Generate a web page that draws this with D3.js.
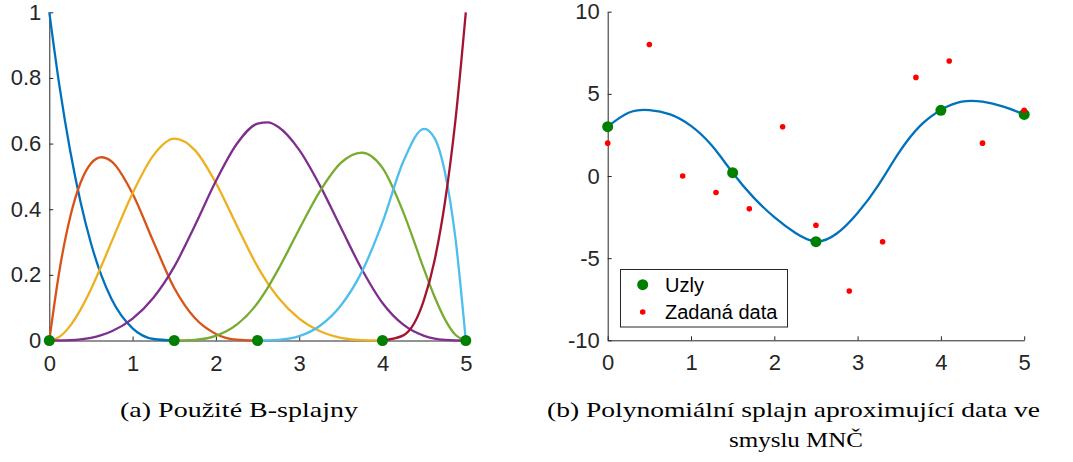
<!DOCTYPE html>
<html>
<head>
<meta charset="utf-8">
<script src="https://cdn.jsdelivr.net/npm/d3@7"></script>
<style>
  html, body { margin: 0; padding: 0; background: #fff; }
  svg { display: block; }
</style>
</head>
<body>
<svg id="chart" width="1073" height="462"></svg>
<script>
// ---------- Left panel: B-spline basis functions (sampled values) ----------
const bx = [0, 0.125, 0.25, 0.375, 0.5, 0.625, 0.75, 1, 1.25, 1.5, 1.75, 2, 2.25, 2.5, 2.625, 2.75, 3, 3.25, 3.5, 3.75, 4, 4.25, 4.5, 4.625, 4.75, 4.875, 5];
const b1 = [1, 0.7703, 0.5787, 0.4219, 0.2963, 0.1985, 0.125, 0.0370, 0.0046, 0, 0, 0, 0, 0, 0, 0, 0, 0, 0, 0, 0, 0, 0, 0, 0, 0, 0];
const b2 = [0, 0.2178, 0.3757, 0.4806, 0.5393, 0.5584, 0.545, 0.4474, 0.3009, 0.16, 0.0675, 0.02, 0.0025, 0, 0, 0, 0, 0, 0, 0, 0, 0, 0, 0, 0, 0, 0];
const b3 = [0, 0.0118, 0.0445, 0.0940, 0.1561, 0.2268, 0.3019, 0.4489, 0.5642, 0.615, 0.5794, 0.48, 0.3506, 0.225, 0.1733, 0.1302, 0.0667, 0.0281, 0.0083, 0.0010, 0, 0, 0, 0, 0, 0, 0];
const b4 = [0, 0.0001, 0.0010, 0.0035, 0.0083, 0.0163, 0.0281, 0.0667, 0.1302, 0.225, 0.3513, 0.4857, 0.5987, 0.6607, 0.6645, 0.6507, 0.5810, 0.4719, 0.3440, 0.2180, 0.1143, 0.0482, 0.0143, 0.0060, 0.0018, 0.0002, 0];
const b5 = [0, 0, 0, 0, 0, 0, 0, 0, 0, 0, 0.0018, 0.0143, 0.0482, 0.1143, 0.1620, 0.2174, 0.3390, 0.455, 0.5410, 0.5726, 0.5257, 0.3905, 0.2157, 0.1332, 0.0645, 0.0174, 0];
const b6 = [0, 0, 0, 0, 0, 0, 0, 0, 0, 0, 0, 0, 0, 0, 0.0002, 0.0017, 0.0133, 0.045, 0.1067, 0.2083, 0.36, 0.5456, 0.645, 0.6166, 0.5119, 0.3124, 0];
const b7 = [0, 0, 0, 0, 0, 0, 0, 0, 0, 0, 0, 0, 0, 0, 0, 0, 0, 0, 0, 0, 0, 0.0156, 0.125, 0.2441, 0.4219, 0.6699, 1];
// support interval of each basis function
const bStart = [0, 0, 0, 0, 1.5, 2.5, 4];
const bEnd = [1.5, 2.5, 4, 5, 5, 5, 5];
const basisColors = ["#0072BD", "#D95319", "#EDB120", "#7E2F8E", "#77AC30", "#4DBEEE", "#A2142F"];
const knotX = [0, 1.5, 2.5, 4, 5];
const knotBaseY = [0, 0, 0, 0, 0];
const leftXTicks = [0, 1, 2, 3, 4, 5];
const leftXLabels = ["0", "1", "2", "3", "4", "5"];
const leftYTicks = [0, 0.2, 0.4, 0.6, 0.8, 1];
const leftYLabels = ["0", "0.2", "0.4", "0.6", "0.8", "1"];

// ---------- Right panel: least-squares spline ----------
const fitX = [0, 0.25, 0.5, 0.75, 1.0, 1.25, 1.5, 1.75, 2.0, 2.25, 2.5, 2.75, 3.0, 3.25, 3.5, 3.75, 4.0, 4.25, 4.5, 4.75, 5.0];
const fitY = [3.0, 3.85, 4.01, 3.75, 3.05, 1.85, 0.2, -1.3, -2.5, -3.45, -3.98, -3.5, -2.25, -0.55, 1.45, 3.05, 4.02, 4.52, 4.52, 4.22, 3.75];
const uzlyX = [0, 1.5, 2.5, 4, 5];
const uzlyY = [3.0, 0.2, -4.0, 4.0, 3.75];
const dataX = [0, 0.5, 0.9, 1.3, 1.7, 2.1, 2.5, 2.9, 3.3, 3.7, 4.1, 4.5, 5];
const dataY = [2, 8, 0, -1, -2, 3, -3, -7, -4, 6, 7, 2, 4];
const rightXTicks = [0, 1, 2, 3, 4, 5];
const rightXLabels = ["0", "1", "2", "3", "4", "5"];
const rightYTicks = [-10, -5, 0, 5, 10];
const rightYLabels = ["-10", "-5", "0", "5", "10"];
const legendLabels = ["Uzly", "Zadaná data"];

// ---------- Captions ----------
const captionA = "(a) Použité B-splajny";
const captionB1 = "(b) Polynomiální splajn aproximující data ve";
const captionB2 = "smyslu MNČ";

const svg = d3.select("#chart");
svg.append("rect").attr("width", 1073).attr("height", 462).attr("fill", "#fff");

const AX = "#262626";
const FONT = "'Liberation Sans', Arial, Helvetica, sans-serif";
const LW = 2.3;

function styleAxis(g) {
  g.select(".domain").attr("stroke", AX).attr("stroke-width", 1);
  g.selectAll(".tick line").attr("stroke", AX).attr("stroke-width", 1);
  g.selectAll(".tick text").attr("fill", AX).attr("font-size", 22).attr("font-family", FONT);
}

// ----- Left panel -----
const lx = d3.scaleLinear().domain([0, 5]).range([49.3, 465.8]);
const ly = d3.scaleLinear().domain([0, 1]).range([340.5, 12.3]);

const gl = svg.append("g");
gl.append("g").attr("transform", `translate(0,${ly(0)})`)
  .call(d3.axisBottom(lx).tickValues(leftXTicks).tickFormat((d, i) => leftXLabels[i]).tickSizeInner(-4).tickSizeOuter(0).tickPadding(14.5))
  .call(styleAxis);
gl.append("g").attr("transform", `translate(${lx(0)},0)`)
  .call(d3.axisLeft(ly).tickValues(leftYTicks).tickFormat((d, i) => leftYLabels[i]).tickSizeInner(-4).tickSizeOuter(0).tickPadding(8))
  .call(styleAxis);

const basis = [b1, b2, b3, b4, b5, b6, b7];
const lineL = d3.line().x(d => lx(d[0])).y(d => ly(d[1])).curve(d3.curveMonotoneX);
basis.forEach((vals, k) => {
  const pts = bx.map((x, i) => [x, vals[i]]).filter(d => d[0] >= bStart[k] && d[0] <= bEnd[k]);
  gl.append("path")
    .datum(pts)
    .attr("d", lineL)
    .attr("fill", "none")
    .attr("stroke", basisColors[k])
    .attr("stroke-width", LW);
});
gl.selectAll("circle.knot").data(knotX.map((x, i) => [x, knotBaseY[i]])).enter()
  .append("circle").attr("class", "knot")
  .attr("cx", d => lx(d[0])).attr("cy", d => ly(d[1])).attr("r", 5.5)
  .attr("fill", "#008000");

// ----- Right panel -----
const rx = d3.scaleLinear().domain([0, 5]).range([607.7, 1024.2]);
const ry = d3.scaleLinear().domain([-10, 10]).range([340.3, 11.7]);

const gr = svg.append("g");
gr.append("g").attr("transform", `translate(0,${ry(-10)})`)
  .call(d3.axisBottom(rx).tickValues(rightXTicks).tickFormat((d, i) => rightXLabels[i]).tickSizeInner(-4).tickSizeOuter(0).tickPadding(14.5))
  .call(styleAxis);
gr.append("g").attr("transform", `translate(${rx(0)},0)`)
  .call(d3.axisLeft(ry).tickValues(rightYTicks).tickFormat((d, i) => rightYLabels[i]).tickSizeInner(-4).tickSizeOuter(0).tickPadding(8))
  .call(styleAxis);

const lineR = d3.line().x(d => rx(d[0])).y(d => ry(d[1])).curve(d3.curveNatural);
gr.append("path")
  .datum(fitX.map((x, i) => [x, fitY[i]]))
  .attr("d", lineR)
  .attr("fill", "none")
  .attr("stroke", "#0072BD")
  .attr("stroke-width", LW);

gr.selectAll("circle.uzel").data(uzlyX.map((x, i) => [x, uzlyY[i]])).enter()
  .append("circle").attr("class", "uzel")
  .attr("cx", d => rx(d[0])).attr("cy", d => ry(d[1])).attr("r", 5.5)
  .attr("fill", "#008000");
gr.selectAll("circle.data").data(dataX.map((x, i) => [x, dataY[i]])).enter()
  .append("circle").attr("class", "data")
  .attr("cx", d => rx(d[0])).attr("cy", d => ry(d[1])).attr("r", 2.8)
  .attr("fill", "#ff0000");

// Legend
const lg = gr.append("g");
lg.append("rect").attr("x", 620.5).attr("y", 269.5).attr("width", 167).attr("height", 57.5)
  .attr("fill", "#fff").attr("stroke", AX).attr("stroke-width", 1);
lg.append("circle").attr("cx", 642.7).attr("cy", 284.7).attr("r", 5.5).attr("fill", "#008000");
lg.append("circle").attr("cx", 642.7).attr("cy", 312).attr("r", 2.8).attr("fill", "#ff0000");
legendLabels.forEach((t, i) => {
  lg.append("text").attr("x", 665).attr("y", [284.7, 312][i]).attr("dy", "0.36em")
    .attr("font-size", 20).attr("font-family", FONT).attr("fill", "#000").text(t);
});

// Captions
const SERIF = "'Liberation Serif', 'Times New Roman', serif";
function caption(t, x, y, len) {
  svg.append("text").attr("x", x).attr("y", y).attr("font-size", 22).attr("font-family", SERIF)
    .attr("fill", "#000").attr("textLength", len).attr("lengthAdjust", "spacingAndGlyphs").text(t);
}
caption(captionA, 120, 417, 238);
caption(captionB1, 547, 417, 493);
caption(captionB2, 729, 447, 134);
</script>
</body>
</html>
